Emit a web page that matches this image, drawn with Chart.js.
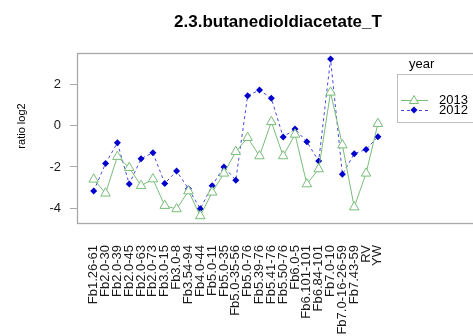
<!DOCTYPE html>
<html>
<head>
<meta charset="utf-8">
<script src="https://cdn.jsdelivr.net/npm/chart.js@4/dist/chart.umd.min.js"></script>
<style>
  html, body { margin: 0; padding: 0; background: #fff; }
  #wrap { width: 473px; height: 336px; position: relative; }
</style>
</head>
<body>
<div id="wrap"><canvas id="c" width="473" height="336"></canvas></div>
<script>
// Sample labels along the x axis
const categories = [
  'Fb1.26-61', 'Fb2.0-30', 'Fb2.0-39', 'Fb2.0-45', 'Fb2.0-63', 'Fb2.0-73',
  'Fb3.0-15', 'Fb3.0-8', 'Fb3.54-94', 'Fb4.0-44', 'Fb5.0-11', 'Fb5.0-35',
  'Fb5.0-35-56', 'Fb5.0-76', 'Fb5.39-76', 'Fb5.41-76', 'Fb5.50-76', 'Fb6.0-5',
  'Fb6.101-101', 'Fb6.84-101', 'Fb7.0-10', 'Fb7.0-16-26-59', 'Fb7.43-59', 'RV', 'YW'
];

// log2 ratios per year
const values2013 = [
  -2.60, -3.28, -1.50, -2.04, -2.91, -2.59, -3.88, -4.04, -3.17, -4.38,
  -3.23, -2.31, -1.26, -0.58, -1.47, 0.19, -1.47, -0.42, -2.83, -2.10,
  1.62, -0.94, -3.95, -2.31, 0.10
];
const values2012 = [
  -3.17, -1.83, -0.83, -2.83, -1.60, -1.31, -2.80, -2.20, -3.06, -4.03,
  -2.91, -2.00, -2.64, 1.46, 1.73, 1.33, -0.55, -0.16, -0.78, -1.71,
  3.24, -2.36, -1.36, -1.15, -0.53
];

const yTicks = [-4, -2, 0, 2];
const seriesNames = ['2013', '2012'];
const chartTitle = '2.3.butanedioldiacetate_T';
const yTitle = 'ratio log2';
const legendTitle = 'year';

const GREEN = '#79bd79';
const BLUE_PT = '#0000cc';
const BLUE_LN = '#4848e0';
const FONT = '"Liberation Sans", Arial, sans-serif';

const toPoints = arr => arr.map((v, i) => ({ x: i, y: v }));

// Frame, title, y title and the legend box
const decorations = {
  id: 'decorations',
  afterDraw(chart) {
    const { ctx, chartArea: a } = chart;
    ctx.save();
    // panel frame
    ctx.strokeStyle = '#a8a8a8';
    ctx.lineWidth = 1.3;
    ctx.strokeRect(a.left + 0.5, a.top + 0.5, a.right + 10 - a.left, a.bottom - a.top);

    // main title
    ctx.fillStyle = '#000';
    ctx.font = 'bold 17px ' + FONT;
    ctx.textAlign = 'center';
    ctx.textBaseline = 'alphabetic';
    ctx.fillText(chartTitle, 278, 27);

    // y title
    ctx.save();
    ctx.translate(22, 126);
    ctx.rotate(-Math.PI / 2);
    ctx.font = '11px ' + FONT;
    ctx.textAlign = 'center';
    ctx.textBaseline = 'middle';
    ctx.fillText(yTitle, 0, 0);
    ctx.restore();

    // legend
    const lx = 397, ly = 74;
    ctx.fillStyle = '#fff';
    ctx.fillRect(lx, ly, 90, 48);
    ctx.strokeStyle = '#bdbdbd';
    ctx.lineWidth = 1;
    ctx.strokeRect(lx + 0.5, ly + 0.5, 90, 48);
    ctx.fillStyle = '#000';
    ctx.font = '13px ' + FONT;
    ctx.textAlign = 'left';
    ctx.textBaseline = 'middle';
    ctx.fillText(legendTitle, 409, 64);

    const rows = [
      { y: 100, color: GREEN, dash: [], label: seriesNames[0], tri: true },
      { y: 110, color: BLUE_LN, dash: [3, 3], label: seriesNames[1], tri: false }
    ];
    rows.forEach(r => {
      ctx.strokeStyle = r.color;
      ctx.lineWidth = 1;
      ctx.setLineDash(r.dash);
      ctx.beginPath();
      ctx.moveTo(401, r.y + 0.5);
      ctx.lineTo(428, r.y + 0.5);
      ctx.stroke();
      ctx.setLineDash([]);
      if (r.tri) {
        ctx.fillStyle = '#fff';
        ctx.beginPath();
        ctx.moveTo(414, r.y - 4.5);
        ctx.lineTo(418.5, r.y + 3.5);
        ctx.lineTo(409.5, r.y + 3.5);
        ctx.closePath();
        ctx.fill();
        ctx.strokeStyle = GREEN;
        ctx.stroke();
      } else {
        ctx.fillStyle = BLUE_PT;
        ctx.beginPath();
        ctx.moveTo(414, r.y - 3.5);
        ctx.lineTo(417.5, r.y);
        ctx.lineTo(414, r.y + 3.5);
        ctx.lineTo(410.5, r.y);
        ctx.closePath();
        ctx.fill();
      }
      ctx.fillStyle = '#000';
      ctx.fillText(r.label, 439, r.y);
    });
    ctx.restore();
  }
};

new Chart(document.getElementById('c'), {
  type: 'line',
  data: {
    datasets: [
      {
        label: seriesNames[0],
        data: toPoints(values2013),
        borderColor: GREEN,
        borderWidth: 1,
        pointStyle: 'triangle',
        pointRadius: 5.5,
        pointBorderWidth: 1,
        pointBorderColor: GREEN,
        pointBackgroundColor: '#fff',
        tension: 0
      },
      {
        label: seriesNames[1],
        data: toPoints(values2012),
        borderColor: BLUE_LN,
        borderWidth: 1,
        borderDash: [3, 3],
        pointStyle: 'rectRot',
        pointRadius: 3.5,
        pointBorderWidth: 0,
        pointBackgroundColor: BLUE_PT,
        tension: 0
      }
    ]
  },
  options: {
    responsive: false,
    animation: false,
    devicePixelRatio: 1,
    layout: { padding: { top: 53, right: 0, bottom: 0, left: 0 } },
    plugins: {
      legend: { display: false },
      title: { display: false },
      tooltip: { enabled: false }
    },
    scales: {
      x: {
        type: 'linear',
        min: -1.41,
        max: 31.48,
        afterBuildTicks: s => { s.ticks = categories.map((_, i) => ({ value: i })); },
        afterFit: s => { s.height = 113; },
        grid: { display: false },
        border: { display: false },
        ticks: {
          autoSkip: false,
          minRotation: 90,
          maxRotation: 90,
          padding: 14,
          color: '#1a1a1a',
          font: { family: FONT, size: 13 },
          callback: v => categories[v]
        }
      },
      y: {
        min: -4.72,
        max: 3.53,
        afterBuildTicks: s => { s.ticks = yTicks.map(v => ({ value: v })); },
        afterFit: s => { s.width = 77; },
        border: { display: false },
        grid: {
          drawOnChartArea: false,
          tickLength: 7,
          color: '#aaa'
        },
        ticks: {
          padding: 9,
          color: '#1a1a1a',
          font: { family: FONT, size: 13 }
        }
      }
    }
  },
  plugins: [decorations]
});
</script>
</body>
</html>
